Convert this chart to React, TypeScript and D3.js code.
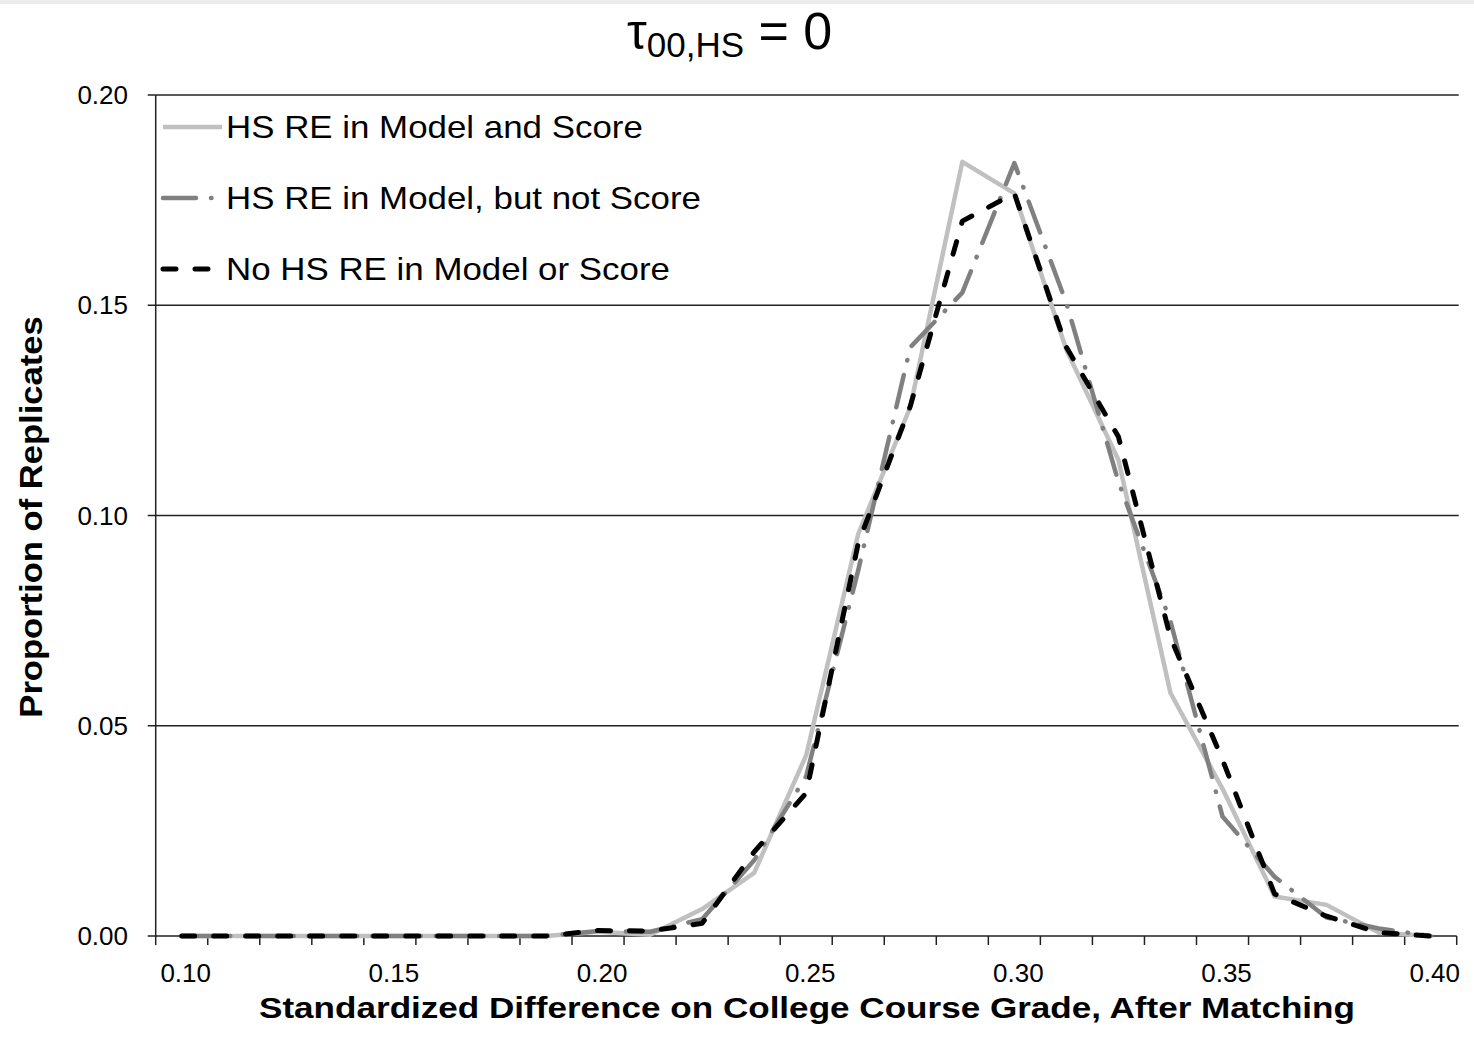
import React, {useEffect, useRef} from 'react'
import * as d3 from 'd3'

// categories on the x axis (Excel category axis, 0.0125 steps)
const categories = [
  0.1, 0.1125, 0.125, 0.1375, 0.15, 0.1625, 0.175, 0.1875, 0.2, 0.2125, 0.225, 0.2375,
  0.25, 0.2625, 0.275, 0.2875, 0.3, 0.3125, 0.325, 0.3375, 0.35, 0.3625, 0.375, 0.3875, 0.4,
]
const xTickLabels = ['0.10', '0.15', '0.20', '0.25', '0.30', '0.35', '0.40']
const yTicks = [0, 0.05, 0.1, 0.15, 0.2]

const modelAndScore = [
  0, 0, 0, 0, 0, 0, 0, 0, 0.001, 0.0003, 0.0064, 0.015,
  0.043, 0.0956, 0.1258, 0.1841, 0.1766, 0.1394, 0.1132, 0.0578, 0.035, 0.0094, 0.0074, 0.0008, 0,
]
const modelNotScore = [
  0, 0, 0, 0, 0, 0, 0, 0, 0.0012, 0.001, 0.004, 0.018,
  0.038, 0.087, 0.14, 0.153, 0.1838, 0.1505, 0.108, 0.0748, 0.0284, 0.0141, 0.0044, 0.0018, 0,
]
const noHsRe = [
  0, 0, 0, 0, 0, 0, 0, 0, 0.0013, 0.0012, 0.003, 0.02,
  0.034, 0.0934, 0.126, 0.17, 0.1766, 0.14, 0.1187, 0.071, 0.0419, 0.01, 0.0047, 0.0008, 0,
]

const seriesNames = ['HS RE in Model and Score', 'HS RE in Model, but not Score', 'No HS RE in Model or Score']

const App = () => {
  const ref = useRef<SVGSVGElement>(null)

  useEffect(() => {
    const width = 1474
    const height = 1044
    const left = 155.7, right = 1456.7, top = 95, bottom = 936
    const font = '"Liberation Sans", Arial, sans-serif'

    const svg = d3.select(ref.current)
    svg.selectAll('*').remove()
    svg.attr('width', width).attr('height', height).attr('font-family', font)

    svg.append('rect').attr('width', width).attr('height', height).attr('fill', '#fff')
    svg.append('rect').attr('width', width).attr('height', 4).attr('fill', '#ececec')

    const x = d3.scaleBand<number>()
      .domain(categories.map((_, i) => i))
      .range([left, right])
      .padding(0)
    const cx = (i: number) => x(i)! + x.bandwidth() / 2

    const y = d3.scaleLinear().domain([0, 0.2]).range([bottom, top])

    // gridlines
    svg.append('g')
      .selectAll('line')
      .data(yTicks.filter(d => d > 0))
      .join('line')
      .attr('x1', left).attr('x2', right + 2)
      .attr('y1', d => y(d)).attr('y2', d => y(d))
      .attr('stroke', '#222').attr('stroke-width', 1.5)

    // y axis
    const yAxis = svg.append('g')
    yAxis.append('line')
      .attr('x1', left).attr('x2', left).attr('y1', top).attr('y2', bottom)
      .attr('stroke', '#222').attr('stroke-width', 1.5)
    yAxis.selectAll('line.tick')
      .data(yTicks)
      .join('line')
      .attr('class', 'tick')
      .attr('x1', left - 8).attr('x2', left)
      .attr('y1', d => y(d)).attr('y2', d => y(d))
      .attr('stroke', '#222').attr('stroke-width', 1.5)
    yAxis.selectAll('text')
      .data(yTicks)
      .join('text')
      .attr('x', 128)
      .attr('y', d => y(d))
      .attr('dy', '0.35em')
      .attr('text-anchor', 'end')
      .attr('font-size', 26)
      .text(d => d3.format('.2f')(d))

    // x axis
    const xAxis = svg.append('g')
    xAxis.append('line')
      .attr('x1', left).attr('x2', right).attr('y1', bottom).attr('y2', bottom)
      .attr('stroke', '#222').attr('stroke-width', 1.5)
    const bounds = categories.map((_, i) => x(i)!).concat([right])
    xAxis.selectAll('line.tick')
      .data(bounds)
      .join('line')
      .attr('class', 'tick')
      .attr('x1', d => d).attr('x2', d => d)
      .attr('y1', bottom).attr('y2', bottom + 9)
      .attr('stroke', '#222').attr('stroke-width', 1.5)
    xAxis.selectAll('text')
      .data(categories.map((c, i) => ({c, i})).filter(d => d.i % 4 === 0))
      .join('text')
      .attr('x', d => cx(d.i) + 4)
      .attr('y', 982)
      .attr('text-anchor', 'middle')
      .attr('font-size', 26)
      .text((d, j) => xTickLabels[j])

    // axis titles (slightly wide lettering, as in the source slide)
    svg.append('g')
      .attr('transform', 'translate(807,1018) scale(1.17,1)')
      .append('text')
      .attr('text-anchor', 'middle')
      .attr('font-size', 30).attr('font-weight', 'bold')
      .text('Standardized Difference on College Course Grade, After Matching')
    svg.append('g')
      .attr('transform', 'translate(42,517) rotate(-90) scale(1.115,1)')
      .append('text')
      .attr('text-anchor', 'middle')
      .attr('font-size', 31).attr('font-weight', 'bold')
      .text('Proportion of Replicates')

    // title
    const title = svg.append('text').attr('x', 627).attr('y', 49).attr('fill', '#000')
    title.append('tspan').attr('font-size', 50).text('τ')
    title.append('tspan').attr('font-size', 35).attr('dy', 8).text('00,HS')
    title.append('tspan').attr('font-size', 52).attr('dy', -8).text(' = 0')

    const styles = [
      {data: modelAndScore, color: '#c0c0c0', width: 4.5, dash: null, cap: 'butt'},
      {data: modelNotScore, color: '#808080', width: 4.5, dash: '33 15 0.5 15', cap: 'round'},
      {data: noHsRe, color: '#000000', width: 5, dash: '13 19', cap: 'round'},
    ]

    const line = d3.line<number>()
      .x((_, i) => cx(i))
      .y(d => y(d))

    styles.forEach(s => {
      svg.append('path')
        .attr('d', line(s.data))
        .attr('fill', 'none')
        .attr('stroke', s.color)
        .attr('stroke-width', s.width)
        .attr('stroke-linejoin', 'round')
        .attr('stroke-linecap', s.cap)
        .attr('stroke-dasharray', s.dash)
    })

    // legend
    const legend = svg.append('g')
    const legendY = [127, 198, 269]
    styles.forEach((s, i) => {
      legend.append('rect')
        .attr('x', 160).attr('y', legendY[i] - 22).attr('width', 560).attr('height', 44)
        .attr('fill', '#fff')
      legend.append('line')
        .attr('x1', 163).attr('x2', 222)
        .attr('y1', legendY[i]).attr('y2', legendY[i])
        .attr('stroke', s.color)
        .attr('stroke-width', s.width)
        .attr('stroke-linecap', s.cap)
        .attr('stroke-dasharray', s.dash)
      legend.append('g')
        .attr('transform', `translate(226,${legendY[i]}) scale(1.09,1)`)
        .append('text')
        .attr('dy', '0.35em')
        .attr('font-size', 32)
        .text(seriesNames[i])
    })
  }, [])

  return <div style={{position: 'absolute', left: 0, top: 0}}>
    <svg ref={ref} style={{display: 'block'}} />
  </div>
}

export default App
